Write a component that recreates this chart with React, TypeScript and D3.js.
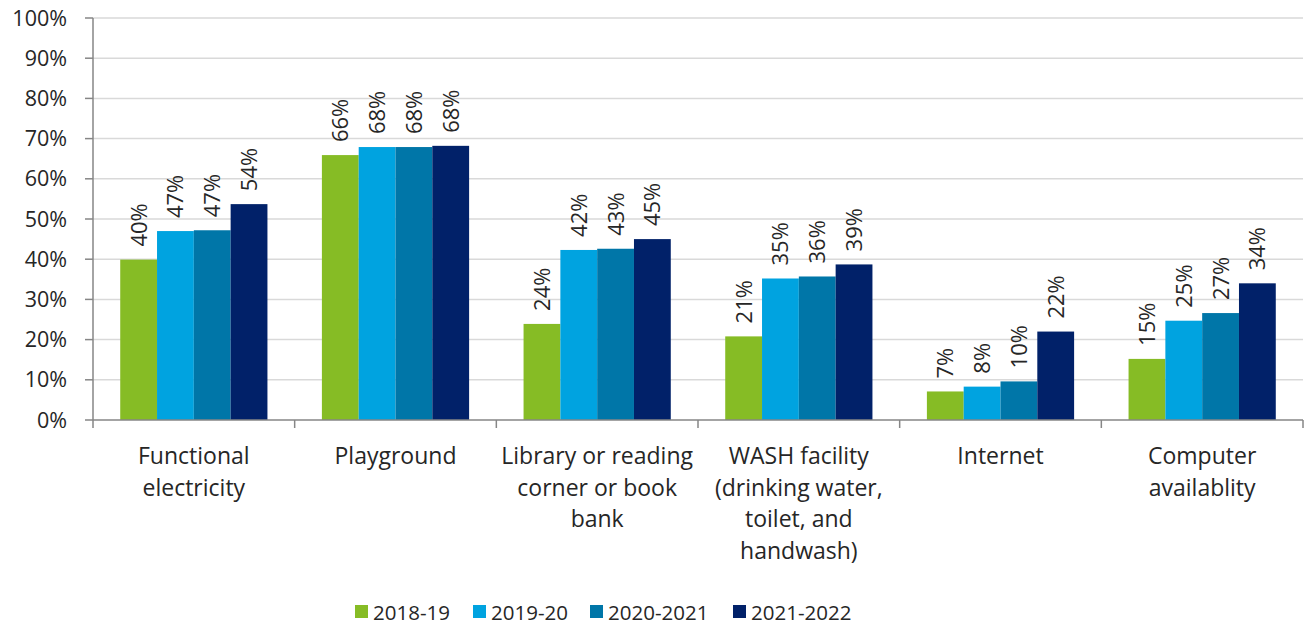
import React, { useEffect, useRef } from 'react';
import * as d3 from 'd3';

const categories = [
  ['Functional', 'electricity'],
  ['Playground'],
  ['Library or reading', 'corner or book', 'bank'],
  ['WASH facility', '(drinking water,', 'toilet, and', 'handwash)'],
  ['Internet'],
  ['Computer', 'availablity'],
];
const seriesNames = ['2018-19', '2019-20', '2020-2021', '2021-2022'];
const seriesColors = ['#86bc25', '#00a3e0', '#0076a8', '#012169'];
const values2018 = [39.9, 65.9, 23.9, 20.8, 7.1, 15.2];
const values2019 = [47.0, 67.9, 42.3, 35.2, 8.3, 24.7];
const values2020 = [47.2, 67.9, 42.6, 35.7, 9.6, 26.6];
const values2021 = [53.7, 68.2, 45.0, 38.7, 22.0, 34.0];
const yTicks = [0, 10, 20, 30, 40, 50, 60, 70, 80, 90, 100];

const App = () => {
  const svgRef = useRef<SVGSVGElement>(null);

  useEffect(() => {
    if (!svgRef.current) return;
    const svg = d3.select(svgRef.current);
    svg.selectAll('*').remove();

    const font = '"Open Sans", "Noto Sans", sans-serif';
    const textColor = '#262626';
    const left = 93, right = 1303, top = 18, bottom = 420;
    const series = [values2018, values2019, values2020, values2021];

    const x = d3.scaleBand<number>()
      .domain(d3.range(categories.length))
      .range([left, right])
      .paddingInner(0)
      .paddingOuter(0);
    const inner = d3.scaleBand<number>()
      .domain(d3.range(series.length))
      .range([x.bandwidth() * 0.135, x.bandwidth() * 0.865]);
    const y = d3.scaleLinear().domain([0, 100]).range([bottom, top]);

    // gridlines
    svg.append('g')
      .selectAll('line')
      .data(yTicks.slice(1))
      .enter()
      .append('line')
      .attr('x1', left)
      .attr('x2', right)
      .attr('y1', d => y(d))
      .attr('y2', d => y(d))
      .attr('stroke', '#d9d9d9')
      .attr('stroke-width', 1.5);

    // bars + rotated value labels
    series.forEach((vals, s) => {
      svg.append('g')
        .selectAll('rect')
        .data(vals)
        .enter()
        .append('rect')
        .attr('x', (d, i) => (x(i) as number) + (inner(s) as number))
        .attr('width', inner.bandwidth())
        .attr('y', d => y(d))
        .attr('height', d => bottom - y(d))
        .attr('fill', seriesColors[s]);

      svg.append('g')
        .selectAll('text')
        .data(vals)
        .enter()
        .append('text')
        .attr('transform', (d, i) => {
          const cx = (x(i) as number) + (inner(s) as number) + inner.bandwidth() / 2;
          return `translate(${cx + 8}, ${y(d) - 13}) rotate(-90)`;
        })
        .attr('font-family', font)
        .attr('font-size', 22)
        .attr('fill', textColor)
        .text(d => `${Math.round(d)}%`);
    });

    // y axis
    svg.append('line')
      .attr('x1', left).attr('x2', left)
      .attr('y1', top).attr('y2', bottom)
      .attr('stroke', '#868686').attr('stroke-width', 1.5);
    const yg = svg.append('g');
    yg.selectAll('line')
      .data(yTicks)
      .enter()
      .append('line')
      .attr('x1', left - 8).attr('x2', left)
      .attr('y1', d => y(d)).attr('y2', d => y(d))
      .attr('stroke', '#868686').attr('stroke-width', 1.5);
    yg.selectAll('text')
      .data(yTicks)
      .enter()
      .append('text')
      .attr('x', 67)
      .attr('y', d => y(d) + 7.5)
      .attr('text-anchor', 'end')
      .attr('font-family', font)
      .attr('font-size', 21.5)
      .attr('fill', textColor)
      .text(d => `${d}%`);

    // x axis
    svg.append('line')
      .attr('x1', left).attr('x2', right)
      .attr('y1', bottom).attr('y2', bottom)
      .attr('stroke', '#868686').attr('stroke-width', 1.5);
    svg.append('g')
      .selectAll('line')
      .data(d3.range(categories.length + 1))
      .enter()
      .append('line')
      .attr('x1', i => left + i * x.step())
      .attr('x2', i => left + i * x.step())
      .attr('y1', bottom).attr('y2', bottom + 8)
      .attr('stroke', '#868686').attr('stroke-width', 1.5);

    const cat = svg.append('g')
      .selectAll('text')
      .data(categories)
      .enter()
      .append('text')
      .attr('x', (d, i) => (x(i) as number) + x.bandwidth() / 2)
      .attr('y', 464)
      .attr('text-anchor', 'middle')
      .attr('font-family', font)
      .attr('font-size', 23)
      .attr('fill', textColor);
    cat.selectAll('tspan')
      .data(d => d)
      .enter()
      .append('tspan')
      .attr('x', function () { return (this.parentNode as SVGTextElement).getAttribute('x'); })
      .attr('dy', (d, i) => (i === 0 ? 0 : 31.5))
      .text(d => d);

    // legend
    const legendX = [355, 473, 590, 733];
    const lg = svg.append('g')
      .selectAll('g')
      .data(seriesNames)
      .enter()
      .append('g')
      .attr('transform', (d, i) => `translate(${legendX[i]}, 605)`);
    lg.append('rect')
      .attr('width', 13).attr('height', 13)
      .attr('fill', (d, i) => seriesColors[i]);
    lg.append('text')
      .attr('x', 18).attr('y', 15)
      .attr('font-family', font)
      .attr('font-size', 20.5)
      .attr('fill', textColor)
      .text(d => d);
  }, []);

  return (
    <svg ref={svgRef} width={1304} height={625}
      style={{ position: 'absolute', left: 0, top: 0, background: '#fff' }} />
  );
};

export default App;
